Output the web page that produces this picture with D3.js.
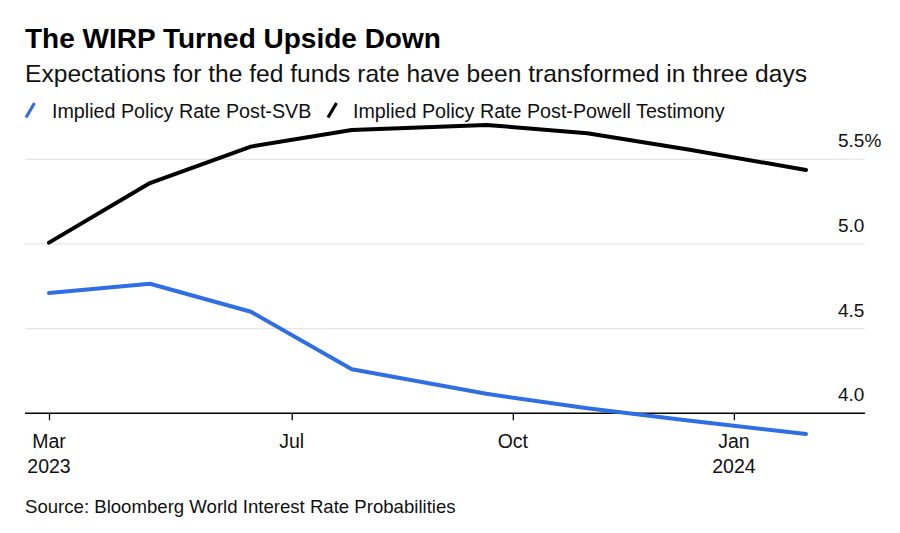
<!DOCTYPE html>
<html>
<head>
<meta charset="utf-8">
<script src="https://cdn.jsdelivr.net/npm/d3@7"></script>
<style>
  html, body { margin: 0; padding: 0; background: #fff; }
  svg { display: block; font-family: "Liberation Sans", Arial, sans-serif; }
</style>
</head>
<body>
<svg id="chart" width="900" height="533"></svg>
<script>
// ---- data ----
const meetingDates = ["2023-03-22","2023-05-03","2023-06-14","2023-07-26","2023-09-20","2023-11-01","2023-12-13","2024-01-31"];
const postSVB    = [4.71, 4.765, 4.60, 4.26, 4.115, 4.03, 3.957, 3.878];
const postPowell = [5.008, 5.36, 5.575, 5.673, 5.703, 5.654, 5.558, 5.437];
const seriesNames = ["Implied Policy Rate Post-SVB", "Implied Policy Rate Post-Powell Testimony"];
const seriesColors = ["#2f6fe2", "#000000"];
const xTickDates = ["2023-03-22","2023-07-01","2023-10-01","2024-01-01"];
const xTickLabels = [["Mar","2023"],["Jul"],["Oct"],["Jan","2024"]];
const yTicks = [4.0, 4.5, 5.0, 5.5];
const yTickLabels = ["4.0","4.5","5.0","5.5%"];
const titleText = "The WIRP Turned Upside Down";
const subtitleText = "Expectations for the fed funds rate have been transformed in three days";
const sourceText = "Source: Bloomberg World Interest Rate Probabilities";

// ---- setup ----
const parse = d3.timeParse("%Y-%m-%d");
const svg = d3.select("#chart");

const x = d3.scaleTime()
  .domain([parse(meetingDates[0]), parse(meetingDates[meetingDates.length-1])])
  .range([49, 806]);
const y = d3.scaleLinear().domain([4.0, 5.5]).range([413.3, 159.3]);

// titles
svg.append("text").attr("x", 25).attr("y", 48)
  .attr("font-size", 28).attr("font-weight", "bold").attr("fill", "#000")
  .text(titleText);
svg.append("text").attr("x", 25).attr("y", 82)
  .attr("font-size", 24.6).attr("fill", "#111")
  .text(subtitleText);

// legend
const legendX = [26, 328];
const legendTextX = [52, 353];
seriesNames.forEach((name, i) => {
  svg.append("line")
    .attr("x1", legendX[i]).attr("y1", 117.5)
    .attr("x2", legendX[i] + 8.5).attr("y2", 103)
    .attr("stroke", seriesColors[i]).attr("stroke-width", 3.2)
    .attr("stroke-linecap", "butt");
  svg.append("text").attr("x", legendTextX[i]).attr("y", 118)
    .attr("font-size", 19.7).attr("fill", "#111")
    .text(name);
});

// gridlines
svg.append("g").selectAll("line").data(yTicks.filter(d => d !== 4.0)).join("line")
  .attr("x1", 25).attr("x2", 865)
  .attr("y1", d => y(d)).attr("y2", d => y(d))
  .attr("stroke", "#e6e6e6").attr("stroke-width", 1.2);

// y labels
svg.append("g").selectAll("text").data(yTicks).join("text")
  .attr("x", 838).attr("y", d => y(d) - 12)
  .attr("font-size", 19).attr("fill", "#111")
  .text((d, i) => yTickLabels[i]);

// x axis
const xAxis = d3.axisBottom(x)
  .tickValues(xTickDates.map(parse))
  .tickSize(7)
  .tickFormat("");
const gx = svg.append("g").attr("transform", `translate(0,${y(4.0)})`).call(xAxis);
gx.select(".domain").remove();
gx.selectAll(".tick line").attr("stroke", "#000").attr("stroke-width", 1.3);
svg.append("line").attr("x1", 25).attr("x2", 865)
  .attr("y1", y(4.0)).attr("y2", y(4.0))
  .attr("stroke", "#000").attr("stroke-width", 1.5);

xTickDates.forEach((d, i) => {
  const t = svg.append("text").attr("x", x(parse(d))).attr("y", 448)
    .attr("text-anchor", "middle").attr("font-size", 19.5).attr("fill", "#111");
  xTickLabels[i].forEach((s, j) => {
    t.append("tspan").attr("x", x(parse(d))).attr("dy", j === 0 ? 0 : 25).text(s);
  });
});

// lines
const line = d3.line().x(d => x(d.date)).y(d => y(d.v));
[postSVB, postPowell].forEach((vals, i) => {
  const data = vals.map((v, k) => ({ date: parse(meetingDates[k]), v }));
  svg.append("path").datum(data)
    .attr("d", line)
    .attr("fill", "none")
    .attr("stroke", seriesColors[i])
    .attr("stroke-width", 4)
    .attr("stroke-linejoin", "round")
    .attr("stroke-linecap", "round");
});

// source
svg.append("text").attr("x", 25).attr("y", 513)
  .attr("font-size", 18.6).attr("fill", "#111")
  .text(sourceText);
</script>
</body>
</html>
